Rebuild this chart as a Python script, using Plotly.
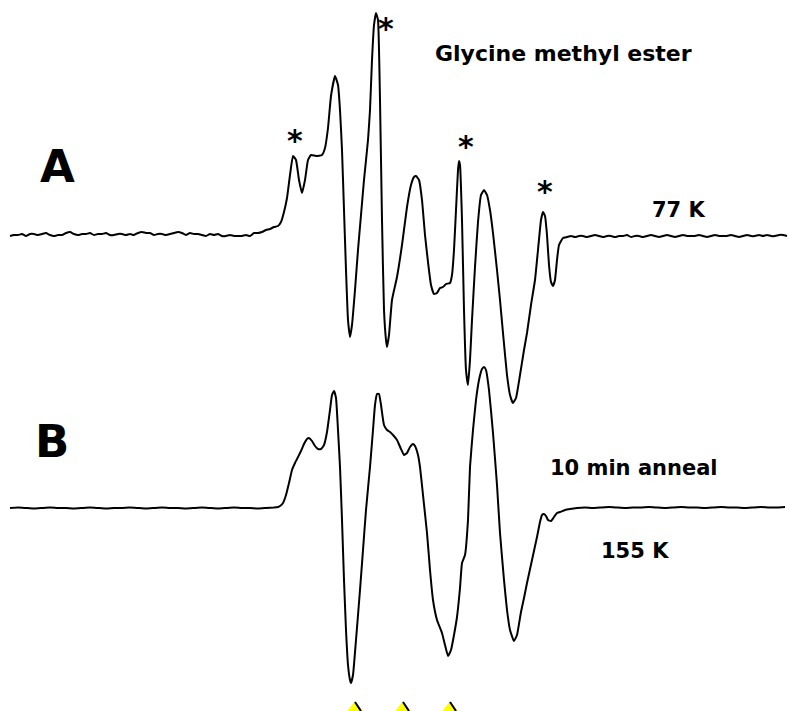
import plotly.graph_objects as go

H = 711  # page height used to flip image-like coordinates

# ---------------- Spectrum A (77 K) : field position, signal (up = positive) ----------------
baseA_level = 235
fieldA = [10, 14, 18, 22, 26, 30, 34, 38, 42, 46, 50, 54, 58, 62, 66, 70, 74, 78, 82, 86, 90, 94, 98, 102, 106,
          110, 114, 118, 122, 126, 130, 134, 138, 142, 146, 150, 154, 158, 162, 166, 170, 174, 178, 182, 186,
          190, 194, 198, 202, 206, 210, 214, 218, 222, 226, 230, 234, 238, 242, 246, 250, 254, 258, 262, 266,
          270, 274, 278, 281,
          284, 287, 290, 293, 296, 299, 302, 305, 308, 311, 316, 322, 325, 328, 331, 335, 338, 340, 342, 344,
          346, 348, 350, 352, 355, 358, 361, 364, 368, 370, 372, 374, 376, 378, 380, 382, 384, 386, 387, 389,
          392, 397, 402, 407, 411, 414, 416, 419, 422, 425, 428, 431, 434, 437, 440, 443, 446, 450, 452, 454,
          456, 458, 459, 460, 462, 464, 466, 468, 470, 472, 475, 478, 481, 484, 487, 490, 493, 497, 500, 503,
          507, 510, 513, 516, 520, 524, 527, 531, 535, 538, 541, 543, 545, 547, 549, 551, 553, 555, 557, 559,
          563, 567, 571, 575, 579, 583, 587, 591, 595, 599, 603, 607, 611, 615, 619, 623, 627, 631, 635, 639,
          643, 647, 651, 655, 659, 663, 667, 671, 675, 679, 683, 687, 691, 695, 699, 703, 707, 711, 715, 719,
          723, 727, 731, 735, 739, 743, 747, 751, 755, 759, 763, 767, 771, 775, 779, 783, 787]
traceA_px = [236, 235, 235, 234, 236, 234, 234, 235, 234, 233, 235, 236, 235, 235, 233, 232, 234, 235, 234, 234,
             233, 235, 234, 234, 233, 235, 235, 234, 234, 235, 234, 235, 233, 232, 233, 233, 235, 234, 234, 235,
             234, 233, 232, 233, 235, 233, 234, 234, 235, 236, 234, 235, 234, 236, 236, 235, 236, 236, 236, 235,
             236, 233, 233, 232, 230, 229, 227, 226, 222,
             212, 198, 175, 156, 160, 180, 193, 180, 160, 155, 156, 155, 148, 128, 96, 76, 85, 110, 150, 210,
             270, 320, 337, 325, 290, 250, 215, 180, 140, 110, 60, 25, 13, 20, 100, 220, 310, 340, 347, 335,
             300, 277, 245, 207, 185, 177, 176, 180, 200, 235, 262, 285, 294, 293, 288, 287, 284, 283, 275, 250,
             210, 170, 161, 165, 220, 310, 370, 385, 360, 320, 267, 222, 195, 190, 195, 210, 233, 270, 300, 333,
             375, 395, 403, 398, 375, 350, 333, 305, 280, 250, 220, 212, 216, 235, 265, 282, 286, 280, 260, 245,
             238, 237, 236, 237, 236, 236, 237, 236, 235, 236, 237, 236, 236, 237, 236, 236, 235, 237, 236, 236,
             237, 236, 235, 236, 237, 236, 235, 236, 237, 236, 235, 236, 236, 236, 235, 236, 237, 236, 235, 236,
             236, 236, 235, 236, 237, 236, 235, 236, 236, 235, 236, 235, 236, 236, 235, 235, 236]
signalA = [baseA_level - v for v in traceA_px]

# ---------------- Spectrum B (10 min anneal, 155 K) ----------------
baseB_level = 508
fieldB = [10, 18, 26, 34, 42, 50, 58, 66, 74, 82, 90, 98, 106, 114, 122, 130, 138, 146, 154, 162, 170, 178, 186,
          194, 202, 210, 218, 226, 234, 242, 250, 258, 266, 274, 278,
          280, 283, 286, 289, 292, 295, 298, 301, 304, 307, 309, 312, 315, 318, 321, 324, 327, 330, 332, 334,
          336, 338, 340, 342, 344, 346, 348, 350, 351, 353, 356, 360, 363, 366, 370, 373, 375, 377, 379, 381,
          384, 387, 390, 393, 397, 401, 404, 407, 410, 413, 415, 418, 420, 423, 427, 430, 433, 437, 442, 445,
          448, 451, 454, 457, 460, 462, 465, 468, 470, 473, 476, 479, 482, 484, 486, 489, 493, 497, 500, 504,
          507, 510, 514, 517, 521, 524, 527, 532, 537, 540, 542, 544, 546, 548, 551, 554, 557, 560, 565, 570,
          577, 585, 593, 601, 609, 617, 625, 633, 641, 649, 657, 665, 673, 681, 689, 697, 705, 713, 721, 729,
          737, 745, 753, 761, 769, 777, 785]
traceB_px = [508, 507.5, 508, 508.5, 508, 507.5, 508, 508, 508.5, 508, 507.5, 508, 508.5, 508, 508, 507.5, 508,
             508.5, 508, 507.5, 508, 508, 508.5, 508, 507.5, 508, 508.5, 508, 507.5, 508, 508, 508.5, 508, 507.5,
             507,
             506, 503, 495, 483, 470, 463, 457, 451, 444, 439, 438, 441, 446, 449, 449, 445, 432, 410, 395, 391,
             398, 430, 467, 520, 580, 630, 665, 680, 683, 675, 640, 590, 550, 510, 467, 430, 405, 394, 394, 405,
             425, 430, 432, 435, 440, 449, 455, 453, 447, 444, 446, 455, 467, 495, 533, 570, 600, 620, 633, 645,
             656, 650, 635, 617, 588, 563, 555, 520, 467, 430, 400, 380, 369, 367, 370, 390, 433, 485, 533, 580,
             610, 630, 641, 635, 612, 598, 583, 560, 537, 522, 515, 514, 516, 520, 521, 517, 513, 512, 510, 509,
             508, 507.5, 508, 507.5, 507, 507.5, 508, 507.5, 507.5, 507, 507.5, 508, 507.5, 507, 507.5, 507.5,
             508, 507.5, 507, 507.5, 507.5, 508, 507.5, 507, 507.5, 507.5, 507]
signalB = [baseB_level - v for v in traceB_px]

# ---------------- Labels ----------------
title_text = "Glycine methyl ester"
panel_labels = ["A", "B"]
temp_labels = ["77 K", "10 min anneal", "155 K"]
star_fields = [295, 386, 466, 545]
marker_fields = [355, 403, 450]

fig = go.Figure()

fig.add_trace(go.Scatter(x=fieldA, y=[H - baseA_level + s for s in signalA], mode="lines",
                         line=dict(color="black", width=2, shape="spline", smoothing=0.4),
                         hoverinfo="skip", showlegend=False))
fig.add_trace(go.Scatter(x=fieldB, y=[H - baseB_level + s for s in signalB], mode="lines",
                         line=dict(color="black", width=2, shape="spline", smoothing=0.4),
                         hoverinfo="skip", showlegend=False))

# yellow field markers at the bottom
fig.add_trace(go.Scatter(x=marker_fields, y=[0] * len(marker_fields), mode="markers",
                         marker=dict(symbol="triangle-up", size=20, color="#ffff00", line=dict(width=0)),
                         hoverinfo="skip", showlegend=False))
lx, ly = [], []
for m in marker_fields:
    lx += [m, m + 6, None]
    ly += [9, 0, None]
fig.add_trace(go.Scatter(x=lx, y=ly, mode="lines", line=dict(color="black", width=2),
                         hoverinfo="skip", showlegend=False))

font = "DejaVu Sans, sans-serif"
ann = []
ann.append(dict(x=433, y=H - 53, text=title_text, xanchor="left", yanchor="middle",
                font=dict(family=font, size=22, color="black"), showarrow=False))
ann.append(dict(x=57, y=H - 166, text=panel_labels[0], xanchor="center", yanchor="middle",
                font=dict(family=font, size=45, color="black"), showarrow=False))
ann.append(dict(x=52, y=H - 441, text=panel_labels[1], xanchor="center", yanchor="middle",
                font=dict(family=font, size=45, color="black"), showarrow=False))
ann.append(dict(x=708, y=H - 210, text=temp_labels[0], xanchor="right", yanchor="middle",
                font=dict(family=font, size=21, color="black"), showarrow=False))
ann.append(dict(x=720, y=H - 468, text=temp_labels[1], xanchor="right", yanchor="middle",
                font=dict(family=font, size=21, color="black"), showarrow=False))
ann.append(dict(x=671, y=H - 551, text=temp_labels[2], xanchor="right", yanchor="middle",
                font=dict(family=font, size=21, color="black"), showarrow=False))
star_py = [137, 25, 143, 188]
for sx, sy in zip(star_fields, star_py):
    ann.append(dict(x=sx, y=H - sy - 3, text="*", xanchor="center", yanchor="middle",
                    font=dict(family=font, size=30, color="black"), showarrow=False))
for a in ann:
    a["text"] = "<b>" + a["text"] + "</b>"

fig.update_layout(width=789, height=711, margin=dict(l=0, r=0, t=0, b=0),
                  paper_bgcolor="white", plot_bgcolor="white", annotations=ann,
                  xaxis=dict(range=[0, 789], visible=False, fixedrange=True),
                  yaxis=dict(range=[0, H], visible=False, fixedrange=True))

fig.write_html("out.html", config={"displayModeBar": False, "staticPlot": True},
               post_script="document.body.style.margin='0px';document.body.style.overflow='hidden';")
